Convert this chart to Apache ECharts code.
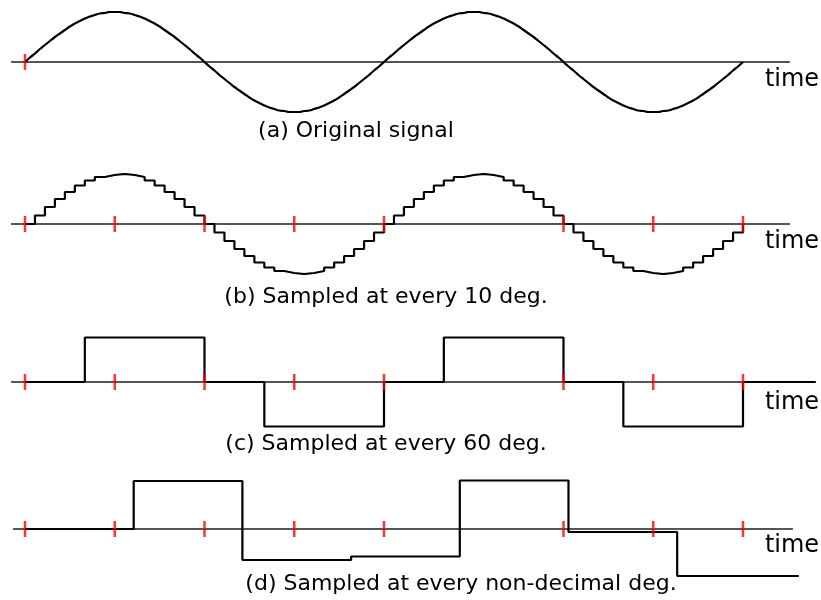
<!DOCTYPE html>
<html>
<head>
<meta charset="utf-8">
<script src="https://cdn.jsdelivr.net/npm/echarts@6/dist/echarts.min.js"></script>
<style>
  html, body { margin: 0; padding: 0; background: #fff; }
  #main { width: 821px; height: 600px; }
</style>
</head>
<body>
<div id="main"></div>
<script>
// original signal, read every 5 deg, 0..720
const angles5 = [0,5,10,15,20,25,30,35,40,45,50,55,60,65,70,75,80,85,90,
  95,100,105,110,115,120,125,130,135,140,145,150,155,160,165,170,175,180,
  185,190,195,200,205,210,215,220,225,230,235,240,245,250,255,260,265,270,
  275,280,285,290,295,300,305,310,315,320,325,330,335,340,345,350,355,360,
  365,370,375,380,385,390,395,400,405,410,415,420,425,430,435,440,445,450,
  455,460,465,470,475,480,485,490,495,500,505,510,515,520,525,530,535,540,
  545,550,555,560,565,570,575,580,585,590,595,600,605,610,615,620,625,630,
  635,640,645,650,655,660,665,670,675,680,685,690,695,700,705,710,715,720];
const signal5 = [0,0.09,0.17,0.26,0.34,0.42,0.5,0.57,0.64,0.71,0.77,0.82,0.87,0.91,0.94,0.97,0.98,1,1,
  1,0.98,0.97,0.94,0.91,0.87,0.82,0.77,0.71,0.64,0.57,0.5,0.42,0.34,0.26,0.17,0.09,0,
  -0.09,-0.17,-0.26,-0.34,-0.42,-0.5,-0.57,-0.64,-0.71,-0.77,-0.82,-0.87,-0.91,-0.94,-0.97,-0.98,-1,-1,
  -1,-0.98,-0.97,-0.94,-0.91,-0.87,-0.82,-0.77,-0.71,-0.64,-0.57,-0.5,-0.42,-0.34,-0.26,-0.17,-0.09,0,
  0.09,0.17,0.26,0.34,0.42,0.5,0.57,0.64,0.71,0.77,0.82,0.87,0.91,0.94,0.97,0.98,1,1,
  1,0.98,0.97,0.94,0.91,0.87,0.82,0.77,0.71,0.64,0.57,0.5,0.42,0.34,0.26,0.17,0.09,0,
  -0.09,-0.17,-0.26,-0.34,-0.42,-0.5,-0.57,-0.64,-0.71,-0.77,-0.82,-0.87,-0.91,-0.94,-0.97,-0.98,-1,-1,
  -1,-0.98,-0.97,-0.94,-0.91,-0.87,-0.82,-0.77,-0.71,-0.64,-0.57,-0.5,-0.42,-0.34,-0.26,-0.17,-0.09,0];

// every 10 deg, held
const angles10 = [0,10,20,30,40,50,60,70,80,90,100,110,120,130,140,150,160,170,180,
  190,200,210,220,230,240,250,260,270,280,290,300,310,320,330,340,350,360,
  370,380,390,400,410,420,430,440,450,460,470,480,490,500,510,520,530,540,
  550,560,570,580,590,600,610,620,630,640,650,660,670,680,690,700,710,720];
const signal10 = [0,0.17,0.34,0.5,0.64,0.77,0.87,0.94,0.98,1,0.98,0.94,0.87,0.77,0.64,0.5,0.34,0.17,0,
  -0.17,-0.34,-0.5,-0.64,-0.77,-0.87,-0.94,-0.98,-1,-0.98,-0.94,-0.87,-0.77,-0.64,-0.5,-0.34,-0.17,0,
  0.17,0.34,0.5,0.64,0.77,0.87,0.94,0.98,1,0.98,0.94,0.87,0.77,0.64,0.5,0.34,0.17,0,
  -0.17,-0.34,-0.5,-0.64,-0.77,-0.87,-0.94,-0.98,-1,-0.98,-0.94,-0.87,-0.77,-0.64,-0.5,-0.34,-0.17,0];

// every 60 deg, held
const angles60 = [0,60,120,180,240,300,360,420,480,540,600,660,720,793];
const signal60 = [0,0.89,0.89,0,-0.89,-0.89,0,0.89,0.89,0,-0.89,-0.89,0,0];

// non-decimal step (~109 deg)
const anglesND = [0,109,218,327,436,545,654,776];
const signalND = [0,0.96,-0.62,-0.55,0.97,-0.06,-0.94,-0.94];

// red marks every 90 deg
const marksA = [0];
const marksB = [0,90,180,270,360,540,630,720];
const marksC = [0,90,180,270,360,540,630,720];
const marksD = [0,90,180,270,360,540,630,720];

// zero line extents (deg)
const baseA = [-14, 767];
const baseB = [-14, 767];
const baseC = [-14, 775];
const baseD = [-12, 770];

const captions = ['(a) Original signal', '(b) Sampled at every 10 deg.',
  '(c) Sampled at every 60 deg.', '(d) Sampled at every non-decimal deg.'];
const axisName = 'time';

var chart = echarts.init(document.getElementById('main'));

const pxPerDeg = 718 / 720;
const axisY = [62, 224, 382, 529];
const capX = [356, 386, 386, 461];
const capY = [131, 297, 444, 584];
const timeY = [80, 242, 403, 546];

function pairs(xs, ys) { return xs.map((x, i) => [x, ys[i]]); }

const grids = axisY.map(y => ({ left: 0, right: 0, top: y - 50, height: 100 }));
const xAxes = axisY.map((y, i) => ({
  type: 'value', gridIndex: i, show: false,
  min: -25 / pxPerDeg, max: 796 / pxPerDeg
}));
const yAxes = axisY.map((y, i) => ({
  type: 'value', gridIndex: i, show: false, min: -1, max: 1
}));

const bases = [baseA, baseB, baseC, baseD];
const marks = [marksA, marksB, marksC, marksD];
const series = [];

bases.forEach((b, i) => {
  series.push({
    type: 'line', xAxisIndex: i, yAxisIndex: i, symbol: 'none', silent: true, z: 1,
    data: [[b[0], 0], [b[1], 0]],
    lineStyle: { color: '#555', width: 2 }
  });
});

const sigLine = { color: '#000', width: 2.2 };

series.push({
  type: 'line', xAxisIndex: 0, yAxisIndex: 0, symbol: 'none', z: 2, smooth: true,
  data: pairs(angles5, signal5), lineStyle: sigLine
});
series.push({
  type: 'line', xAxisIndex: 1, yAxisIndex: 1, symbol: 'none', z: 2, step: 'end',
  data: pairs(angles10, signal10), lineStyle: sigLine
});
series.push({
  type: 'line', xAxisIndex: 2, yAxisIndex: 2, symbol: 'none', z: 2, step: 'end',
  data: pairs(angles60, signal60), lineStyle: sigLine
});
series.push({
  type: 'line', xAxisIndex: 3, yAxisIndex: 3, symbol: 'none', z: 2, step: 'end',
  data: pairs(anglesND, signalND), lineStyle: sigLine
});

marks.forEach((m, i) => {
  series.push({
    type: 'scatter', xAxisIndex: i, yAxisIndex: i, z: 3, silent: true,
    symbol: 'rect', symbolSize: [2.5, 16],
    itemStyle: { color: '#ff0000' },
    data: m.map(d => [d, 0])
  });
});

const graphic = [];
captions.forEach((c, i) => {
  graphic.push({
    type: 'text', x: capX[i], y: capY[i],
    style: { text: c, align: 'center', verticalAlign: 'middle',
      fontSize: 22, fontFamily: 'DejaVu Sans', fill: '#000' }
  });
  graphic.push({
    type: 'text', x: 792, y: timeY[i],
    style: { text: axisName, align: 'center', verticalAlign: 'middle',
      fontSize: 24, fontFamily: 'DejaVu Sans', fill: '#000' }
  });
});

option = {
  backgroundColor: '#fff',
  animation: false,
  grid: grids,
  xAxis: xAxes,
  yAxis: yAxes,
  series: series,
  graphic: graphic
};

chart.setOption(option);
</script>
</body>
</html>
